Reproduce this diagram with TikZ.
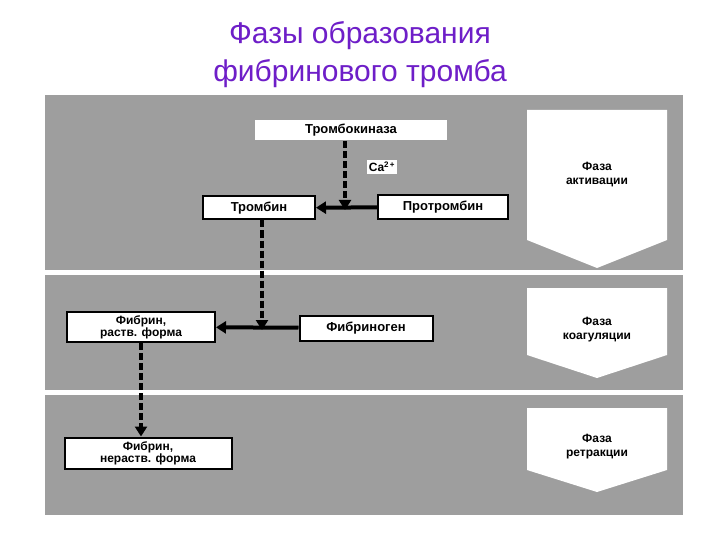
\documentclass[tikz,border=0pt]{standalone}
\usepackage{fontspec}
\setmainfont{Liberation Sans}
\usetikzlibrary{arrows.meta}
\definecolor{ttl}{RGB}{110,30,200}
\definecolor{bg}{RGB}{158,158,158}
\begin{document}
\begin{tikzpicture}[x=1pt,y=-1pt,
  box/.style={draw=black,line width=2pt,fill=white,font=\bfseries\fontsize{13}{13}\selectfont,inner sep=2pt,align=center},
  phase/.style={font=\bfseries\fontsize{12}{14}\selectfont,align=center},
  sol/.style={line width=4pt,-{Triangle[length=10pt,width=12pt]}},
  dsh/.style={line width=4pt,dash pattern=on 7pt off 3pt,-{Triangle[length=10pt,width=12pt]}}]
\useasboundingbox (0,0) rectangle (720,540);
\fill[white] (0,0) rectangle (720,540);
\node[text=ttl,font=\fontsize{30}{38}\selectfont,align=center] (title) at (360,55) {Фазы образования\\фибринового тромба};
\fill[bg] (45,95) rectangle (683,515);
\fill[white] (45,270) rectangle (683,275);
\fill[white] (45,390) rectangle (683,395);
% phase pentagons
\fill[white] (527,110) -- (667,110) -- (667,240) -- (597,268) -- (527,240) -- cycle;
\fill[white] (527,288) -- (667,288) -- (667,355) -- (597,378) -- (527,355) -- cycle;
\fill[white] (527,408) -- (667,408) -- (667,470) -- (597,492) -- (527,470) -- cycle;
\node[phase] (p1) at (597,175) {Фаза\\активации};
\node[phase] (p2) at (597,330) {Фаза\\коагуляции};
\node[phase] (p3) at (597,447) {Фаза\\ретракции};
% nodes
\node[box,draw=none,minimum width=192pt,minimum height=20pt] (tk) at (351,130) {Тромбокиназа};
\node[box,minimum width=112pt,minimum height=23pt] (tb) at (259,208) {Тромбин};
\node[box,minimum width=130pt,minimum height=24pt] (ptb) at (443,207) {Протромбин};
\node[box,minimum width=133pt,minimum height=25pt] (fg) at (366,328) {Фибриноген};
\node[box,minimum width=148pt,minimum height=30pt,font=\bfseries\fontsize{12}{12}\selectfont] (fr) at (141,327) {Фибрин,\\раств. форма};
\node[box,minimum width=167pt,minimum height=31pt,font=\bfseries\fontsize{12}{12}\selectfont] (fn) at (148,453) {Фибрин,\\нераств. форма};
\coordinate (j1) at (345,208);
\coordinate (j2) at (262,328);
\node[fill=white,font=\bfseries\fontsize{12}{12}\selectfont,inner sep=2pt] (ca) at (382,167) {Ca\textsuperscript{2\,+}};
% connectors
\draw[sol] (ptb) -- (tb);
\draw[dsh] (tk.south -| j1) -- ([yshift=-2pt]j1);
\draw[dsh] (tb.south -| j2) -- ([yshift=-2pt]j2);
\draw[sol] (fg) -- (fr);
\draw[dsh] (fr.south) -- (fn.north -| fr.south);
\end{tikzpicture}
\end{document}
